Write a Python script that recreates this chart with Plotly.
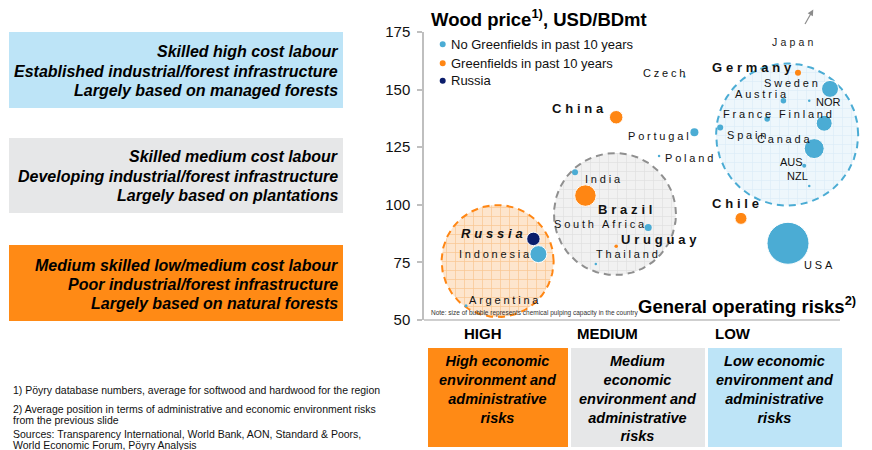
import json
import numpy as np
import plotly.graph_objects as go

# ---------------- data ----------------
blue_names = ["Argentina", "Indonesia", "India", "South Africa", "Thailand", "Poland",
              "Portugal", "Czech", "Spain", "France", "Austria", "NOR", "Sweden",
              "Finland", "Canada", "AUS", "NZL", "USA"]
blue_risk = [1.01, 2.75, 3.63, 5.39, 4.13, 5.65, 6.50, 6.26, 7.12, 8.25, 8.64, 9.26, 9.76,
             9.62, 9.38, 9.14, 9.26, 8.75]
blue_price = [56.2, 78.6, 114.1, 90.1, 74.3, 121.2, 131.5, 155.6, 133.5, 137.2, 145.2, 145.2,
              150.3, 135.4, 124.4, 117.0, 108.2, 83.3]
blue_capacity = [3, 17, 6, 7, 2.5, 2.5, 8, 2.5, 6, 5.5, 5.5, 2.5, 17, 16, 20, 4, 2.5, 42]

orange_names = ["China", "Brazil", "Uruguay", "Chile", "Germany"]
orange_risk = [4.62, 3.88, 4.62, 7.62, 8.99]
orange_price = [138.0, 104.0, 82.0, 94.1, 157.3]
orange_capacity = [13.5, 21.5, 3.5, 12, 6]

navy_names = ["Russia"]
navy_risk = [2.63]
navy_price = [85.2]
navy_capacity = [13.5]

# label offsets (pixels) relative to each point
label_dx = {"Argentina": 1.7, "Indonesia": -80.6, "India": 9, "South Africa": -95,
            "Thailand": -1, "Poland": 5.3, "Portugal": -67.6, "Czech": -42.6,
            "Spain": 5.7, "France": -45, "Austria": -49, "NOR": 6, "Sweden": -66.7,
            "Finland": -46.3, "Canada": -58.3, "AUS": -25, "NZL": -23.6, "USA": 15.3,
            "China": -65, "Brazil": 12, "Uruguay": 3.7, "Chile": -30.3,
            "Germany": -87.3, "Russia": -73.3}
label_dy = {"Argentina": -5.7, "Indonesia": 0.3, "India": 7, "South Africa": -3.4,
            "Thailand": -9.7, "Poland": 2.3, "Portugal": 3.7, "Czech": -3.4,
            "Spain": 7.3, "France": -5, "Austria": -6.7, "NOR": 1, "Sweden": -5.7,
            "Finland": -9.3, "Canada": -9.4, "AUS": -3.7, "NZL": -10, "USA": 21.4,
            "China": -9, "Brazil": 14.3, "Uruguay": -6.3, "Chile": -15,
            "Germany": -5, "Russia": -5.7}
bold_labels = ["China", "Brazil", "Uruguay", "Chile", "Germany", "Russia"]
italic_labels = ["Russia"]
plain_labels = ["NOR", "AUS", "NZL"]

region_names = ["HIGH", "MEDIUM", "LOW"]
region_risk = [1.77, 4.59, 8.73]
region_price = [75.6, 96.0, 130.5]
region_radius_px = [56, 61, 71]

y_ticks = [50, 75, 100, 125, 150, 175]

legend_names = ["No Greenfields in past 10 years", "Greenfields in past 10 years", "Russia"]

left_box_lines = [
    ["Skilled high cost labour", "Established industrial/forest infrastructure",
     "Largely based on managed forests"],
    ["Skilled medium cost labour", "Developing industrial/forest infrastructure",
     "Largely based on plantations"],
    ["Medium skilled low/medium cost labour", "Poor industrial/forest infrastructure",
     "Largely based on natural forests"],
]
bottom_box_text = [
    "High economic<br>environment and<br>administrative<br>risks",
    "Medium<br>economic<br>environment and<br>administrative<br>risks",
    "Low economic<br>environment and<br>administrative<br>risks",
]
footnotes = [
    "1) Pöyry database numbers, average for softwood and hardwood for the region",
    "2) Average position in terms of administrative and economic environment risks",
    "from the previous slide",
    "Sources: Transparency International, World Bank, AON, Standard & Poors,",
    "World Economic Forum, Pöyry Analysis",
]

# ---------------- style ----------------
BLUE = "#4bacd4"
ORANGE = "#ff8613"
NAVY = "#0b1d6b"
BOX_BLUE = "#bde4f7"
BOX_GRAY = "#e6e7e8"
BOX_ORANGE = "#ff8a15"
AXIS = "#bfbfbf"
FONT = "Liberation Sans, Arial, sans-serif"

W, H = 872, 450
PL, PR, PT, PB = 424, 862, 32, 320
XPX = 41.6              # px per risk unit
YMIN, YMAX = 50, 175
YPX = (PB - PT) / (YMAX - YMIN)
XMAX = (PR - PL) / XPX


def pxx(px):
    return (px - PL) / (PR - PL)


def pxy(py):
    return (PB - py) / (PB - PT)


fig = go.Figure()

# region circles
region_style = [
    dict(line=ORANGE, bg="#fde5cd", fg="#f9c590"),
    dict(line="#8f8f8f", bg="#f1f1f1", fg="#e0e0e0"),
    dict(line=BLUE, bg="#eef7fc", fg="#dcedf8"),
]
theta = np.linspace(0, 2 * np.pi, 181)
for cx, cy, r, st in zip(region_risk, region_price, region_radius_px, region_style):
    fig.add_trace(go.Scatter(
        x=cx + r * np.cos(theta) / XPX, y=cy + r * np.sin(theta) / YPX,
        mode="lines", fill="toself", fillcolor=st["bg"],
        fillpattern=dict(shape="+", size=9, solidity=0.15, bgcolor=st["bg"],
                         fgcolor=st["fg"], fillmode="replace"),
        line=dict(color=st["line"], width=2, dash="7px,5px"),
        hoverinfo="skip", showlegend=False))


def bubbles(xs, ys, ss, color):
    fig.add_trace(go.Scatter(
        x=xs, y=ys, mode="markers", cliponaxis=False, hoverinfo="skip", showlegend=False,
        marker=dict(size=ss, color=color, opacity=1,
                    line=dict(color="white", width=[1 if s > 8 else 0 for s in ss]))))


bubbles(navy_risk, navy_price, navy_capacity, NAVY)
bubbles(blue_risk, blue_price, blue_capacity, BLUE)
bubbles(orange_risk, orange_price, orange_capacity, ORANGE)

annotations = []
spacing = []   # letter spacing per annotation index (0 = none)
shapes = []


def add_ann(spc=0, **kw):
    annotations.append(kw)
    spacing.append(spc)


# country labels
all_pts = list(zip(blue_names, blue_risk, blue_price)) + \
    list(zip(orange_names, orange_risk, orange_price)) + \
    list(zip(navy_names, navy_risk, navy_price))
for name, x, y in all_pts:
    bold = name in bold_labels
    ital = name in italic_labels
    size = 13 if bold else 11
    spc = 0 if name in plain_labels else (3.8 if bold else 2.8)
    add_ann(spc, x=x, y=y, xref="x", yref="y", text=name, showarrow=False,
            xanchor="left", yanchor="middle", align="left",
            xshift=label_dx[name] - 1, yshift=-label_dy[name],
            font=dict(family=FONT, size=size, color="#111",
                      weight="bold" if bold else "normal",
                      style="italic" if ital else "normal"))

# Japan (off the chart) label + arrow
add_ann(3.2, x=pxx(770), y=pxy(41.7), xref="paper", yref="paper", text="Japan",
        showarrow=False, xanchor="left", yanchor="middle", align="left",
        font=dict(family=FONT, size=10.5, color="#222"))
shapes.append(dict(type="line", xref="paper", yref="paper", x0=pxx(805), y0=pxy(24),
                   x1=pxx(811), y1=pxy(13.5), line=dict(color="#8c8c8c", width=1.2)))
shapes.append(dict(type="path", xref="paper", yref="paper",
                   path="M%f,%f L%f,%f L%f,%f Z" % (pxx(813.3), pxy(9.5), pxx(812.9), pxy(16.2),
                                                    pxx(807.7), pxy(13.2)),
                   fillcolor="#8c8c8c", line=dict(width=0)))

# titles
add_ann(x=pxx(429), y=pxy(18), xref="paper", yref="paper",
        text="<b>Wood price<sup>1)</sup>, USD/BDmt</b>", showarrow=False,
        xanchor="left", yanchor="middle", font=dict(family=FONT, size=18.5, color="#000"))
add_ann(x=pxx(636), y=pxy(305), xref="paper", yref="paper",
        text="<b>General operating risks<sup>2)</sup></b>", showarrow=False,
        xanchor="left", yanchor="middle", font=dict(family=FONT, size=18.5, color="#000"))
add_ann(x=pxx(429), y=pxy(313), xref="paper", yref="paper",
        text="Note: size of bubble represents chemical pulping capacity in the country",
        showarrow=False, xanchor="left", yanchor="middle",
        font=dict(family=FONT, size=6.5, color="#333"))

# legend
legend_colors = [BLUE, ORANGE, NAVY]
legend_y = [44.3, 63.3, 80.7]
for name, c, ly in zip(legend_names, legend_colors, legend_y):
    shapes.append(dict(type="circle", xref="paper", yref="paper", xsizemode="pixel",
                       ysizemode="pixel", xanchor=pxx(442.7), yanchor=pxy(ly),
                       x0=-3, x1=3, y0=-3, y1=3, fillcolor=c, line=dict(width=0)))
    add_ann(x=pxx(449), y=pxy(ly), xref="paper", yref="paper", text=name,
            showarrow=False, xanchor="left", yanchor="middle",
            font=dict(family=FONT, size=13, color="#111"))

# x axis baseline
shapes.append(dict(type="line", xref="paper", yref="paper", x0=0, x1=pxx(840), y0=0, y1=0,
                   line=dict(color=AXIS, width=1.5)))

# left boxes
left_box_y = [(32, 108), (138, 213), (245, 321)]
left_box_colors = [BOX_BLUE, BOX_GRAY, BOX_ORANGE]
left_line_y = [[51.7, 71.2, 90.7], [156.7, 176, 195.3], [265, 284, 303]]
for (y0, y1), c, lines, lys in zip(left_box_y, left_box_colors, left_box_lines, left_line_y):
    shapes.append(dict(type="rect", xref="paper", yref="paper", x0=pxx(9), x1=pxx(343),
                       y0=pxy(y1), y1=pxy(y0), fillcolor=c, line=dict(width=0), layer="below"))
    for t, ly in zip(lines, lys):
        add_ann(x=pxx(340), y=pxy(ly), xref="paper", yref="paper", text=t,
                showarrow=False, xanchor="right", yanchor="middle",
                font=dict(family=FONT, size=16, color="#000", weight="bold", style="italic"))

# bottom boxes + risk level headers
bottom_x = [(428, 568), (571, 705), (708, 842)]
header_x = [483, 607, 733]
for (x0, x1), c, t, rn, hx in zip(bottom_x, [BOX_ORANGE, BOX_GRAY, BOX_BLUE],
                                  bottom_box_text, region_names, header_x):
    shapes.append(dict(type="rect", xref="paper", yref="paper", x0=pxx(x0), x1=pxx(x1),
                       y0=pxy(447), y1=pxy(348), fillcolor=c, line=dict(width=0)))
    add_ann(x=pxx((x0 + x1) / 2), y=pxy(351), xref="paper", yref="paper",
            text=t, showarrow=False, xanchor="center", yanchor="top", align="center",
            font=dict(family=FONT, size=14.5, color="#000", weight="bold", style="italic"))
    add_ann(x=pxx(hx), y=pxy(333), xref="paper", yref="paper",
            text="<b>%s</b>" % rn, showarrow=False, xanchor="center",
            yanchor="middle", font=dict(family=FONT, size=15, color="#000"))

# footnotes
foot_y = [390, 408.5, 420, 433.5, 445]
for t, fy in zip(footnotes, foot_y):
    add_ann(x=pxx(11), y=pxy(fy), xref="paper", yref="paper", text=t,
            showarrow=False, xanchor="left", yanchor="middle",
            font=dict(family=FONT, size=10.5, color="#111"))

fig.update_layout(
    width=W, height=H,
    margin=dict(l=PL, r=W - PR, t=PT, b=H - PB, pad=0),
    paper_bgcolor="white", plot_bgcolor="white",
    showlegend=False,
    xaxis=dict(range=[0, XMAX], visible=False, fixedrange=True),
    yaxis=dict(range=[YMIN, YMAX], tickvals=y_ticks, ticks="outside", ticklen=5,
               tickwidth=1.5, tickcolor=AXIS, showline=True, linecolor=AXIS, linewidth=1.5,
               showgrid=False, zeroline=False, ticklabelstandoff=4,
               tickfont=dict(family=FONT, size=15, color="#111"), fixedrange=True),
    annotations=annotations,
    shapes=shapes,
)

post = ("document.body.style.margin='0';"
        "var gd=document.getElementById('{plot_id}');var sp=" + json.dumps(spacing) +
        ";gd.querySelectorAll('g.annotation').forEach(function(g){"
        "var i=+g.getAttribute('data-index');if(sp[i]){"
        "var t=g.querySelector('text.annotation-text');"
        "if(t){t.style.letterSpacing=sp[i]+'px';}}});")

fig.write_html("out.html", post_script=post, config={"displayModeBar": False})
